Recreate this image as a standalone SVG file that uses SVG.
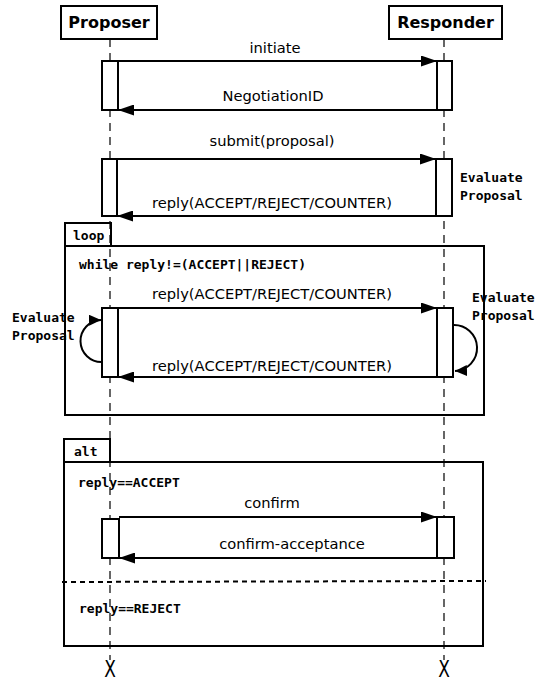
<svg xmlns="http://www.w3.org/2000/svg" width="537" height="683" viewBox="0 0 537 683">
  <style>
    .life { stroke: #000; stroke-width: 1.2; stroke-dasharray: 8 6; fill: none; }
    .box { fill: #fff; stroke: #000; stroke-width: 2; }
    .act { fill: #fff; stroke: #000; stroke-width: 2; }
    .frame { fill: none; stroke: #000; stroke-width: 2; }
    .msg { stroke: #000; stroke-width: 2; fill: none; marker-end: url(#arrow); }
    .self { stroke: #000; stroke-width: 2; fill: none; marker-end: url(#arrowSmall); }
    .title { font-family: "DejaVu Sans", sans-serif; font-weight: bold; font-size: 16px; text-anchor: middle; }
    .label { font-family: "DejaVu Sans", sans-serif; font-size: 14.7px; text-anchor: middle; }
    .mono { font-family: "DejaVu Sans Mono", monospace; font-weight: bold; font-size: 13px; }
    .end { font-family: "DejaVu Sans", sans-serif; font-size: 17px; text-anchor: middle; }
  </style>
  <defs>
    <marker id="arrow" markerUnits="userSpaceOnUse" markerWidth="17" markerHeight="11" refX="16" refY="5.5" orient="auto">
      <path d="M0,0 L16,5.5 L0,11 Z" fill="#000"/>
    </marker>
    <marker id="arrowSmall" markerUnits="userSpaceOnUse" markerWidth="13" markerHeight="11" refX="12" refY="5.5" orient="auto">
      <path d="M0,0 L12,5.5 L0,11 Z" fill="#000"/>
    </marker>
  </defs>

  <!-- lifelines -->
  <g id="lifelines">
    <line class="life" x1="110" y1="39" x2="110" y2="660"/>
    <line class="life" x1="444" y1="39" x2="444" y2="660"/>
  </g>

  <!-- participants -->
  <g id="proposer">
    <rect class="box" x="61" y="6" width="96" height="33"/>
    <text class="title" x="109" y="28">Proposer</text>
    <text class="end" transform="translate(110,677) scale(1,1.3)" x="0" y="0">X</text>
  </g>
  <g id="responder">
    <rect class="box" x="389" y="6" width="113" height="33"/>
    <text class="title" x="445.5" y="28">Responder</text>
    <text class="end" transform="translate(444,677) scale(1,1.3)" x="0" y="0">X</text>
  </g>

  <!-- combined fragments -->
  <g id="loop-frame">
    <rect class="frame" x="65" y="246" width="419" height="169"/>
    <rect class="frame" x="65" y="223" width="46" height="23"/>
    <text class="mono" x="73" y="240">loop</text>
    <text class="mono" x="79" y="269">while reply!=(ACCEPT||REJECT)</text>
  </g>
  <g id="alt-frame">
    <rect class="frame" x="64" y="462" width="419" height="184"/>
    <rect class="frame" x="64" y="439" width="46" height="23"/>
    <text class="mono" x="74" y="456">alt</text>
    <text class="mono" x="78" y="487">reply==ACCEPT</text>
    <line x1="62" y1="582" x2="486" y2="581" stroke="#000" stroke-width="2" stroke-dasharray="5 4"/>
    <text class="mono" x="79" y="613">reply==REJECT</text>
  </g>

  <!-- activations -->
  <g id="activations">
    <rect class="act" x="102" y="61" width="16" height="49"/>
    <rect class="act" x="437" y="61" width="15" height="49"/>
    <rect class="act" x="102" y="159" width="15" height="57"/>
    <rect class="act" x="436" y="159" width="16" height="57"/>
    <rect class="act" x="102" y="308" width="16" height="69"/>
    <rect class="act" x="437" y="308" width="16" height="69"/>
    <rect class="act" x="102" y="519" width="17" height="39"/>
    <rect class="act" x="437" y="517" width="17" height="41"/>
  </g>

  <!-- messages -->
  <g id="connectors">
    <line class="msg" x1="118" y1="61" x2="437" y2="61"/>
    <line class="msg" x1="437" y1="110" x2="118" y2="110"/>
    <line class="msg" x1="117" y1="159" x2="436" y2="159"/>
    <line class="msg" x1="436" y1="216" x2="117" y2="216"/>
    <line class="msg" x1="118" y1="308" x2="437" y2="308"/>
    <line class="msg" x1="437" y1="377" x2="118" y2="377"/>
    <line class="msg" x1="119" y1="517" x2="437" y2="517"/>
    <line class="msg" x1="437" y1="558" x2="119" y2="558"/>
    <path class="self" d="M102,362 A21,21 0 1 1 101,320"/>
    <path class="self" d="M453,325 A23,23 0 1 1 455,371"/>
  </g>

  <!-- message labels -->
  <g id="labels">
    <text class="label" x="275" y="53">initiate</text>
    <text class="label" x="273" y="101">NegotiationID</text>
    <text class="label" x="272" y="146">submit(proposal)</text>
    <text class="label" x="272" y="208">reply(ACCEPT/REJECT/COUNTER)</text>
    <text class="mono" x="460" y="182">Evaluate</text>
    <text class="mono" x="460" y="200">Proposal</text>
    <text class="label" x="272" y="299">reply(ACCEPT/REJECT/COUNTER)</text>
    <text class="label" x="272" y="371">reply(ACCEPT/REJECT/COUNTER)</text>
    <text class="mono" x="12" y="322">Evaluate</text>
    <text class="mono" x="12" y="340">Proposal</text>
    <text class="mono" x="472" y="302">Evaluate</text>
    <text class="mono" x="472" y="320">Proposal</text>
    <text class="label" x="272" y="508">confirm</text>
    <text class="label" x="292" y="549">confirm-acceptance</text>
  </g>
</svg>
